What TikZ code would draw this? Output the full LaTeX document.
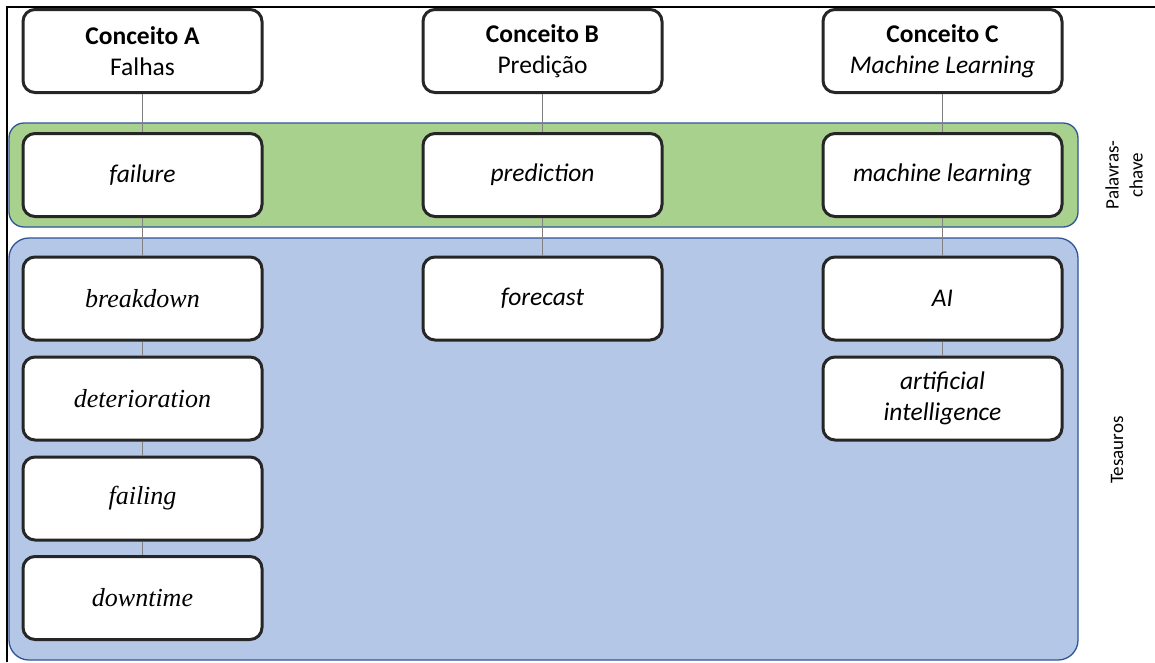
\documentclass[tikz,border=0pt]{standalone}
\usepackage{fontspec}
\setmainfont{Carlito}
\newfontfamily\tmsfont{Liberation Serif}
\definecolor{kwfill}{HTML}{A9D18E}
\definecolor{thfill}{HTML}{B4C7E7}
\definecolor{bandline}{HTML}{2F5597}
\definecolor{boxline}{HTML}{262626}
\definecolor{linkgray}{HTML}{808080}
\tikzset{
  termbox/.style={draw=boxline, line width=3pt, rounded corners=12pt, fill=white,
    minimum width=239pt, minimum height=83pt, inner sep=0pt, align=center,
    font=\fontsize{25.5}{30.5}\selectfont},
  serifterm/.style={termbox, font=\fontsize{26}{31}\selectfont\tmsfont\itshape},
  link/.style={draw=linkgray, line width=1pt},
  band/.style={draw=bandline, line width=1.3pt},
  sidelabel/.style={rotate=90, align=center, font=\fontsize{19}{24}\selectfont}
}
\begin{document}
\begin{tikzpicture}[x=1pt, y=-1pt]
\useasboundingbox (0,0) rectangle (1155,662);
% frame
\draw[line width=2pt] (7,662) -- (7,7) -- (1155,7);
% bands
\filldraw[band, fill=kwfill, rounded corners=15pt] (9,123) rectangle (1078,227);
\filldraw[band, fill=thfill, rounded corners=20pt] (9,238) rectangle (1078,660);
% concepts
\node[termbox] (ca) at (142.5,51) {\textbf{Conceito A}\\Falhas};
\node[termbox] (cb) at (542.5,51) {\textbf{Conceito B}\\Predição};
\node[termbox] (cc) at (942.5,51) {\textbf{Conceito C}\\\textit{Machine Learning}};
% keywords
\node[termbox] (ka) at (142.5,175) {\textit{failure}};
\node[termbox] (kb) at (542.5,175) {\textit{prediction}};
\node[termbox] (kc) at (942.5,175) {\textit{machine learning}};
% thesaurus terms
\node[serifterm] (ta1) at (142.5,298.5) {breakdown};
\node[serifterm] (ta2) at (142.5,398.5) {deterioration};
\node[serifterm] (ta3) at (142.5,498.5) {failing};
\node[serifterm] (ta4) at (142.5,598) {downtime};
\node[termbox] (tb1) at (542.5,298.5) {\textit{forecast}};
\node[termbox] (tc1) at (942.5,298.5) {\textit{AI}};
\node[termbox] (tc2) at (942.5,398.5) {\textit{artificial}\\\textit{intelligence}};
% links
\draw[link] (ca) -- (ka);
\draw[link] (cb) -- (kb);
\draw[link] (cc) -- (kc);
\draw[link] (ka) -- (ta1);
\draw[link] (ta1) -- (ta2);
\draw[link] (ta2) -- (ta3);
\draw[link] (ta3) -- (ta4);
\draw[link] (kb) -- (tb1);
\draw[link] (kc) -- (tc1);
\draw[link] (tc1) -- (tc2);
% side labels
\node[sidelabel] (lkw) at (1124,175) {Palavras-\\chave};
\node[sidelabel] (lth) at (1117,450) {Tesauros};
\end{tikzpicture}
\end{document}
